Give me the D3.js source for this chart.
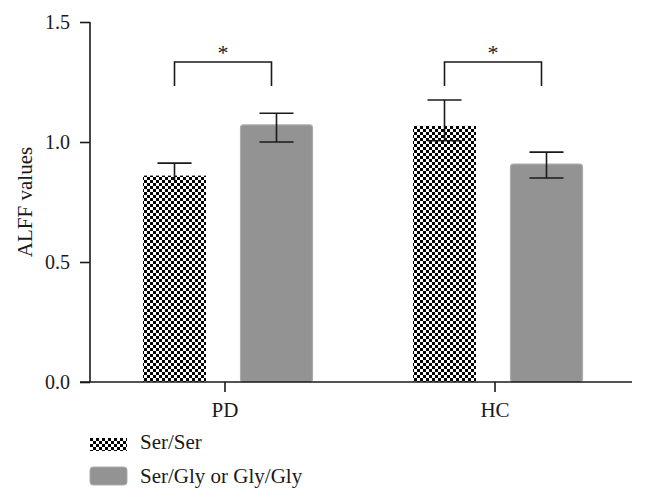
<!DOCTYPE html>
<html><head><meta charset="utf-8">
<script src="https://cdn.jsdelivr.net/npm/d3@7"></script>
<style>body{margin:0;background:#fff}svg{display:block}</style>
</head><body>
<script>
const categories = ["PD", "HC"];
const seriesNames = ["Ser/Ser", "Ser/Gly or Gly/Gly"];
const serSerMean = [0.86, 1.067];
const serSerHigh = [0.912, 1.175];
const serSerLow = [null, 1.005];
const serGlyMean = [1.071, 0.908];
const serGlyHigh = [1.12, 0.958];
const serGlyLow = [1.0, 0.85];
const yTicks = [0, 0.5, 1.0, 1.5];
const yTickLabels = ["0.0", "0.5", "1.0", "1.5"];
const sigLabels = ["*", "*"];

const W = 646, H = 500;
const svg = d3.select("body").append("svg").attr("width", W).attr("height", H);
const font = "'Liberation Serif', 'DejaVu Serif', serif";
const ink = "#1a1a1a";

const defs = svg.append("defs");
const pat = defs.append("pattern").attr("id", "checker").attr("patternUnits", "userSpaceOnUse")
  .attr("width", 6).attr("height", 6);
pat.append("rect").attr("width", 6).attr("height", 6).attr("fill", "#fff");
pat.append("rect").attr("x", 0).attr("y", 0).attr("width", 3).attr("height", 3).attr("fill", "#000");
pat.append("rect").attr("x", 3).attr("y", 3).attr("width", 3).attr("height", 3).attr("fill", "#000");

const y = d3.scaleLinear().domain([0, 1.5]).range([382, 22]);
const x0 = d3.scaleBand().domain(categories).range([90, 630]).padding(0);
const x1 = d3.scalePoint().domain(seriesNames).range([-50.5, 51.5]);
const barW = {"Ser/Ser": 63, "Ser/Gly or Gly/Gly": 72};

const data = [];
categories.forEach((c, i) => {
  data.push({cat: c, s: seriesNames[0], v: serSerMean[i], hi: serSerHigh[i], lo: serSerLow[i]});
  data.push({cat: c, s: seriesNames[1], v: serGlyMean[i], hi: serGlyHigh[i], lo: serGlyLow[i]});
});
const cx = d => x0(d.cat) + x0.bandwidth() / 2 + x1(d.s);

// bars
svg.selectAll("rect.bar").data(data).join("rect").attr("class", "bar")
  .attr("x", d => cx(d) - barW[d.s] / 2)
  .attr("width", d => barW[d.s])
  .attr("y", d => y(d.v))
  .attr("height", d => y(0) - y(d.v))
  .attr("rx", d => d.s === seriesNames[0] ? 0 : 3)
  .attr("fill", d => d.s === seriesNames[0] ? "url(#checker)" : "#939393")
  .attr("stroke", d => d.s === seriesNames[0] ? "none" : "#ababab")
  .attr("stroke-width", 1.2);

// error bars
const eb = svg.append("g").attr("stroke", ink).attr("stroke-width", 1.6);
data.forEach(d => {
  const x = cx(d);
  const lowV = d.lo == null ? d.v - 0.02 : d.lo;
  eb.append("line").attr("x1", x).attr("x2", x).attr("y1", y(d.hi)).attr("y2", y(lowV));
  eb.append("line").attr("x1", x - 17).attr("x2", x + 17).attr("y1", y(d.hi)).attr("y2", y(d.hi));
  if (d.lo != null) eb.append("line").attr("x1", x - 17).attr("x2", x + 17).attr("y1", y(d.lo)).attr("y2", y(d.lo));
});

// axes
const yAxis = svg.append("g").attr("transform", "translate(90,0)")
  .call(d3.axisLeft(y).tickValues(yTicks).tickSize(10).tickPadding(8)
    .tickFormat((d, i) => yTickLabels[i]));
yAxis.select(".domain").attr("d", `M0,${y(1.5)}V${y(0)}`);
yAxis.selectAll("path,line").attr("stroke", ink).attr("stroke-width", 1.6);
yAxis.selectAll("text").attr("font-family", font).attr("font-size", 20).attr("fill", ink)
  .attr("x", -20).attr("dy", "0.33em");

const xAxis = svg.append("g").attr("transform", `translate(0,${y(0)})`)
  .call(d3.axisBottom(x0).tickSize(10).tickPadding(10));
xAxis.select(".domain").attr("d", "M80,0H632");
xAxis.selectAll("path,line").attr("stroke", ink).attr("stroke-width", 1.6);
xAxis.selectAll("text").attr("font-family", font).attr("font-size", 21).attr("fill", ink)
  .attr("y", 35).attr("dy", 0);

svg.append("text").attr("transform", "translate(32,202) rotate(-90)")
  .attr("text-anchor", "middle").attr("font-family", font).attr("font-size", 21).attr("fill", ink)
  .text("ALFF values");

// significance brackets
const br = svg.append("g").attr("stroke", ink).attr("stroke-width", 1.6).attr("fill", "none");
categories.forEach((c, i) => {
  const xl = x0(c) + x0.bandwidth() / 2 + x1(seriesNames[0]);
  const xr = x0(c) + x0.bandwidth() / 2 + x1(seriesNames[1]) - 5;
  br.append("path").attr("d", `M${xl},86V62H${xr}V86`);
  svg.append("text").attr("x", (xl + xr) / 2).attr("y", 60).attr("text-anchor", "middle")
    .attr("font-family", font).attr("font-size", 22).attr("fill", ink).text(sigLabels[i]);
});

// legend
const lg = svg.append("g");
lg.append("rect").attr("x", 90).attr("y", 438).attr("width", 37).attr("height", 13).attr("fill", "url(#checker)");
lg.append("rect").attr("x", 90).attr("y", 467).attr("width", 37).attr("height", 18).attr("rx", 3)
  .attr("fill", "#939393").attr("stroke", "#ababab");
lg.append("text").attr("x", 140).attr("y", 449).attr("font-family", font).attr("font-size", 21).attr("fill", ink).text(seriesNames[0]);
lg.append("text").attr("x", 140).attr("y", 483).attr("font-family", font).attr("font-size", 21).attr("fill", ink).text(seriesNames[1]);
</script>
</body></html>
